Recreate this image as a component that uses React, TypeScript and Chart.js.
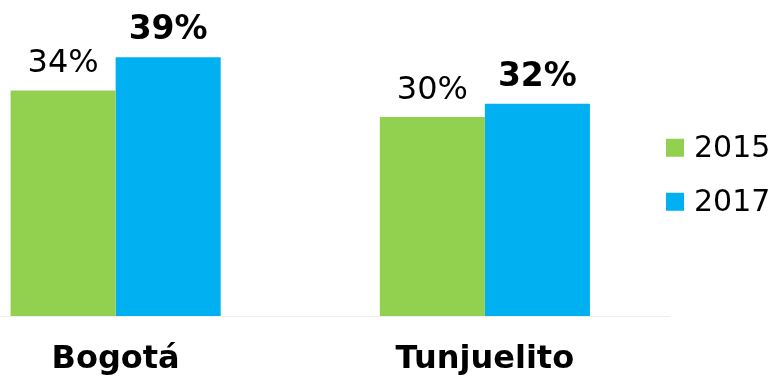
import React, { useEffect, useRef } from "react";
import { Chart, registerables } from "chart.js";

Chart.register(...registerables);

const categories = ["Bogotá", "Tunjuelito"];
const seriesNames = ["2015", "2017"];
const values2015 = [34, 30];
const values2017 = [39, 32];
const valueLabels2015 = ["34%", "30%"];
const valueLabels2017 = ["39%", "32%"];

const GREEN = "#92D050";
const BLUE = "#00B0F0";
const FONT = "'DejaVu Sans', Verdana, sans-serif";

const valueLabelPlugin = {
  id: "valueLabels",
  afterDatasetsDraw(chart: any) {
    const ctx = chart.ctx;
    ctx.save();
    ctx.textAlign = "center";
    ctx.textBaseline = "alphabetic";
    ctx.fillStyle = "#000";
    chart.data.datasets.forEach((ds: any, i: number) => {
      const meta = chart.getDatasetMeta(i);
      ctx.font = ds.labelBold ? `bold 33px ${FONT}` : `32px ${FONT}`;
      meta.data.forEach((bar: any, j: number) => {
        ctx.fillText(ds.valueLabels[j], bar.x, bar.y - 18);
      });
    });
    ctx.restore();
  },
};

const sideLegendPlugin = {
  id: "sideLegend",
  afterDraw(chart: any) {
    const ctx = chart.ctx;
    const area = chart.chartArea;
    const mid = (area.top + area.bottom) / 2;
    ctx.save();
    ctx.font = `30px ${FONT}`;
    ctx.textAlign = "left";
    ctx.textBaseline = "middle";
    chart.data.datasets.forEach((ds: any, i: number) => {
      const cy = mid - 19 + i * 54;
      const bx = area.right - 3.5;
      ctx.fillStyle = ds.backgroundColor;
      ctx.fillRect(bx, cy - 9, 18, 18);
      ctx.fillStyle = "#000";
      ctx.fillText(ds.label, bx + 28, cy + 1);
    });
    ctx.restore();
  },
};

export default function App() {
  const ref = useRef<HTMLCanvasElement | null>(null);

  useEffect(() => {
    if (!ref.current) return;
    const chart = new Chart(ref.current, {
      type: "bar",
      data: {
        labels: categories,
        datasets: [
          {
            label: seriesNames[0],
            data: values2015,
            backgroundColor: GREEN,
            borderWidth: 0,
            categoryPercentage: 0.569,
            barPercentage: 1,
            valueLabels: valueLabels2015,
            labelBold: false,
          } as any,
          {
            label: seriesNames[1],
            data: values2017,
            backgroundColor: BLUE,
            borderWidth: 0,
            categoryPercentage: 0.569,
            barPercentage: 1,
            valueLabels: valueLabels2017,
            labelBold: true,
          } as any,
        ],
      },
      options: {
        animation: false,
        responsive: true,
        maintainAspectRatio: false,
        layout: { padding: { left: 0, right: 107.5, top: 17.5, bottom: 0 } },
        plugins: {
          legend: { display: false },
          tooltip: { enabled: false },
        },
        scales: {
          x: {
            grid: { display: false, drawTicks: false },
            border: { display: true, color: "#EEEEEE", width: 1 },
            ticks: {
              color: "#000",
              padding: 24,
              font: { family: FONT, size: 32, weight: "bold" },
              maxRotation: 0,
            },
            afterFit: (scale: any) => {
              scale.height = 61;
            },
          },
          y: {
            display: false,
            min: 0,
            max: 45,
          },
        },
      },
      plugins: [valueLabelPlugin, sideLegendPlugin],
    });
    return () => chart.destroy();
  }, []);

  return (
    <div
      style={{
        position: "fixed",
        left: 0,
        top: 0,
        width: 777,
        height: 377,
        overflow: "hidden",
        background: "#fff",
      }}
    >
      <div style={{ position: "absolute", left: -69, top: 0, width: 846, height: 377 }}>
        <canvas ref={ref} />
      </div>
    </div>
  );
}
